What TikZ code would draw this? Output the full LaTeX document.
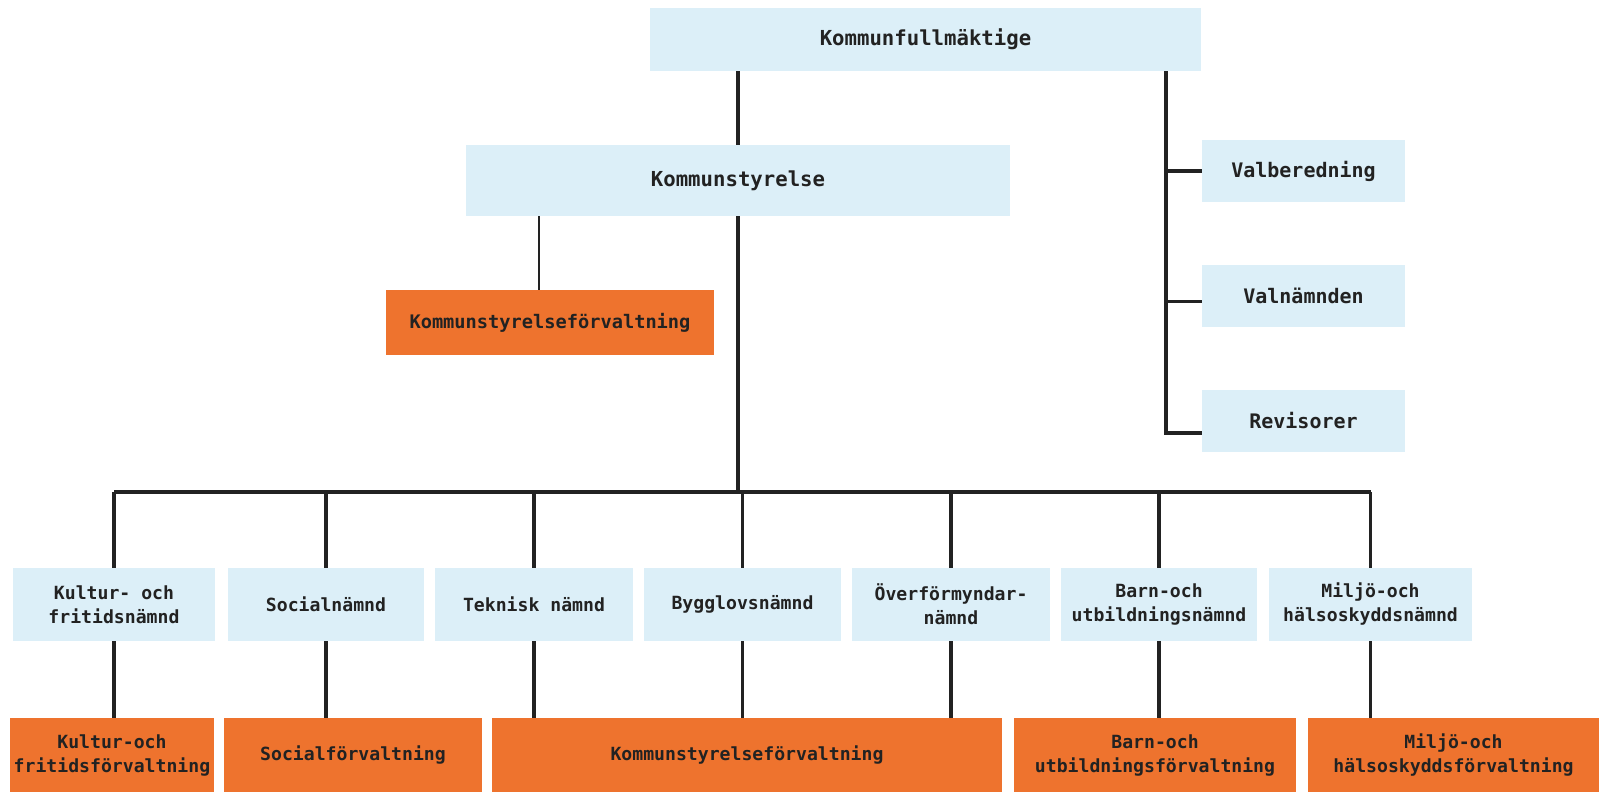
\documentclass[tikz,border=0pt]{standalone}
\usepackage{fontspec}
\setmainfont{DejaVu Sans Mono}

\definecolor{nbblue}{HTML}{DCEFF8}
\definecolor{nborange}{HTML}{EE732E}
\definecolor{nbtext}{HTML}{222222}

\tikzstyle{board}=[fill=nbblue, text=nbtext, align=center, inner sep=0pt,
  font=\bfseries\fontsize{13.6}{18}\selectfont]
\tikzstyle{office}=[board, fill=nborange]
\tikzstyle{conn}=[line width=2.4pt, draw=nbtext]

\begin{document}
\begin{tikzpicture}[x=0.75pt, y=-0.75pt]
  \useasboundingbox (0,0) rectangle (1599,805);
  % top levels
  \node[board, minimum width=413pt, minimum height=47pt,
    font=\bfseries\fontsize{15.5}{18}\selectfont] (kf) at (925.5,39.5) {Kommunfullmäktige};
  \node[board, minimum width=408pt, minimum height=53pt,
    font=\bfseries\fontsize{15.5}{18}\selectfont] (ks) at (738,180.5) {Kommunstyrelse};
  \node[office, minimum width=246pt, minimum height=49pt,
    font=\bfseries\fontsize{14}{17}\selectfont] (ksf) at (550,322.5) {Kommunstyrelseförvaltning};
  \foreach \name/\y/\txt in {vb/171/Valberedning, vn/296/Valnämnden, rev/421/Revisorer} {%
    \node[board, minimum width=152pt, minimum height=46.5pt,
      font=\bfseries\fontsize{15}{18}\selectfont] (\name) at (1303.5,\y) {\txt};
  }
  % nämnder
  \foreach \i/\x/\w/\txt in {1/114/151.5/{Kultur- och\\fritidsnämnd},
      2/326/147/{Socialnämnd}, 3/534/148.5/{Teknisk nämnd},
      4/742.5/148/{Bygglovsnämnd}, 5/951/148.5/{Överförmyndar-\\nämnd},
      6/1159/147/{Barn-och\\utbildningsnämnd}, 7/1370.5/152/{Miljö-och\\hälsoskyddsnämnd}} {%
    \node[board, minimum width=\w pt, minimum height=55pt] (n\i) at (\x,604.5) {\txt};
  }
  % förvaltningar
  \foreach \i/\x/\w/\txt in {1/112/153/{Kultur-och\\fritidsförvaltning},
      2/353/193.5/{Socialförvaltning}, 3/747/382.5/{Kommunstyrelseförvaltning},
      4/1155/211.5/{Barn-och\\utbildningsförvaltning}, 5/1453.5/218/{Miljö-och\\hälsoskyddsförvaltning}} {%
    \node[office, minimum width=\w pt, minimum height=55.5pt] (f\i) at (\x,755) {\txt};
  }
  \coordinate (bus) at (0,492);
  \coordinate (trunk) at (1166,0);
  \coordinate (ksleg) at (539,0);
  \draw[conn] (kf.south -| ks) -- (ks.north);
  \draw[conn, line width=1.6pt] (ks.south -| ksleg) -- (ksf.north -| ksleg);
  \draw[conn] (ks.south) -- (ks.south |- bus);
  \draw[conn] (n1 |- bus) -- (n7 |- bus);
  \draw[conn] (kf.south -| trunk) |- ([yshift=-9pt]rev.west);
  \draw[conn] (trunk |- vb.west) -- (vb.west);
  \draw[conn] ([yshift=-4pt]vn.west -| trunk) -- ([yshift=-4pt]vn.west);
  \foreach \i/\j in {1/1, 2/2, 3/3, 4/3, 5/3, 6/4, 7/5} {%
    \draw[conn] (n\i |- bus) -- (n\i.north);
    \draw[conn] (n\i.south) -- (n\i.south |- f\j.north);
  }
\end{tikzpicture}
\end{document}
